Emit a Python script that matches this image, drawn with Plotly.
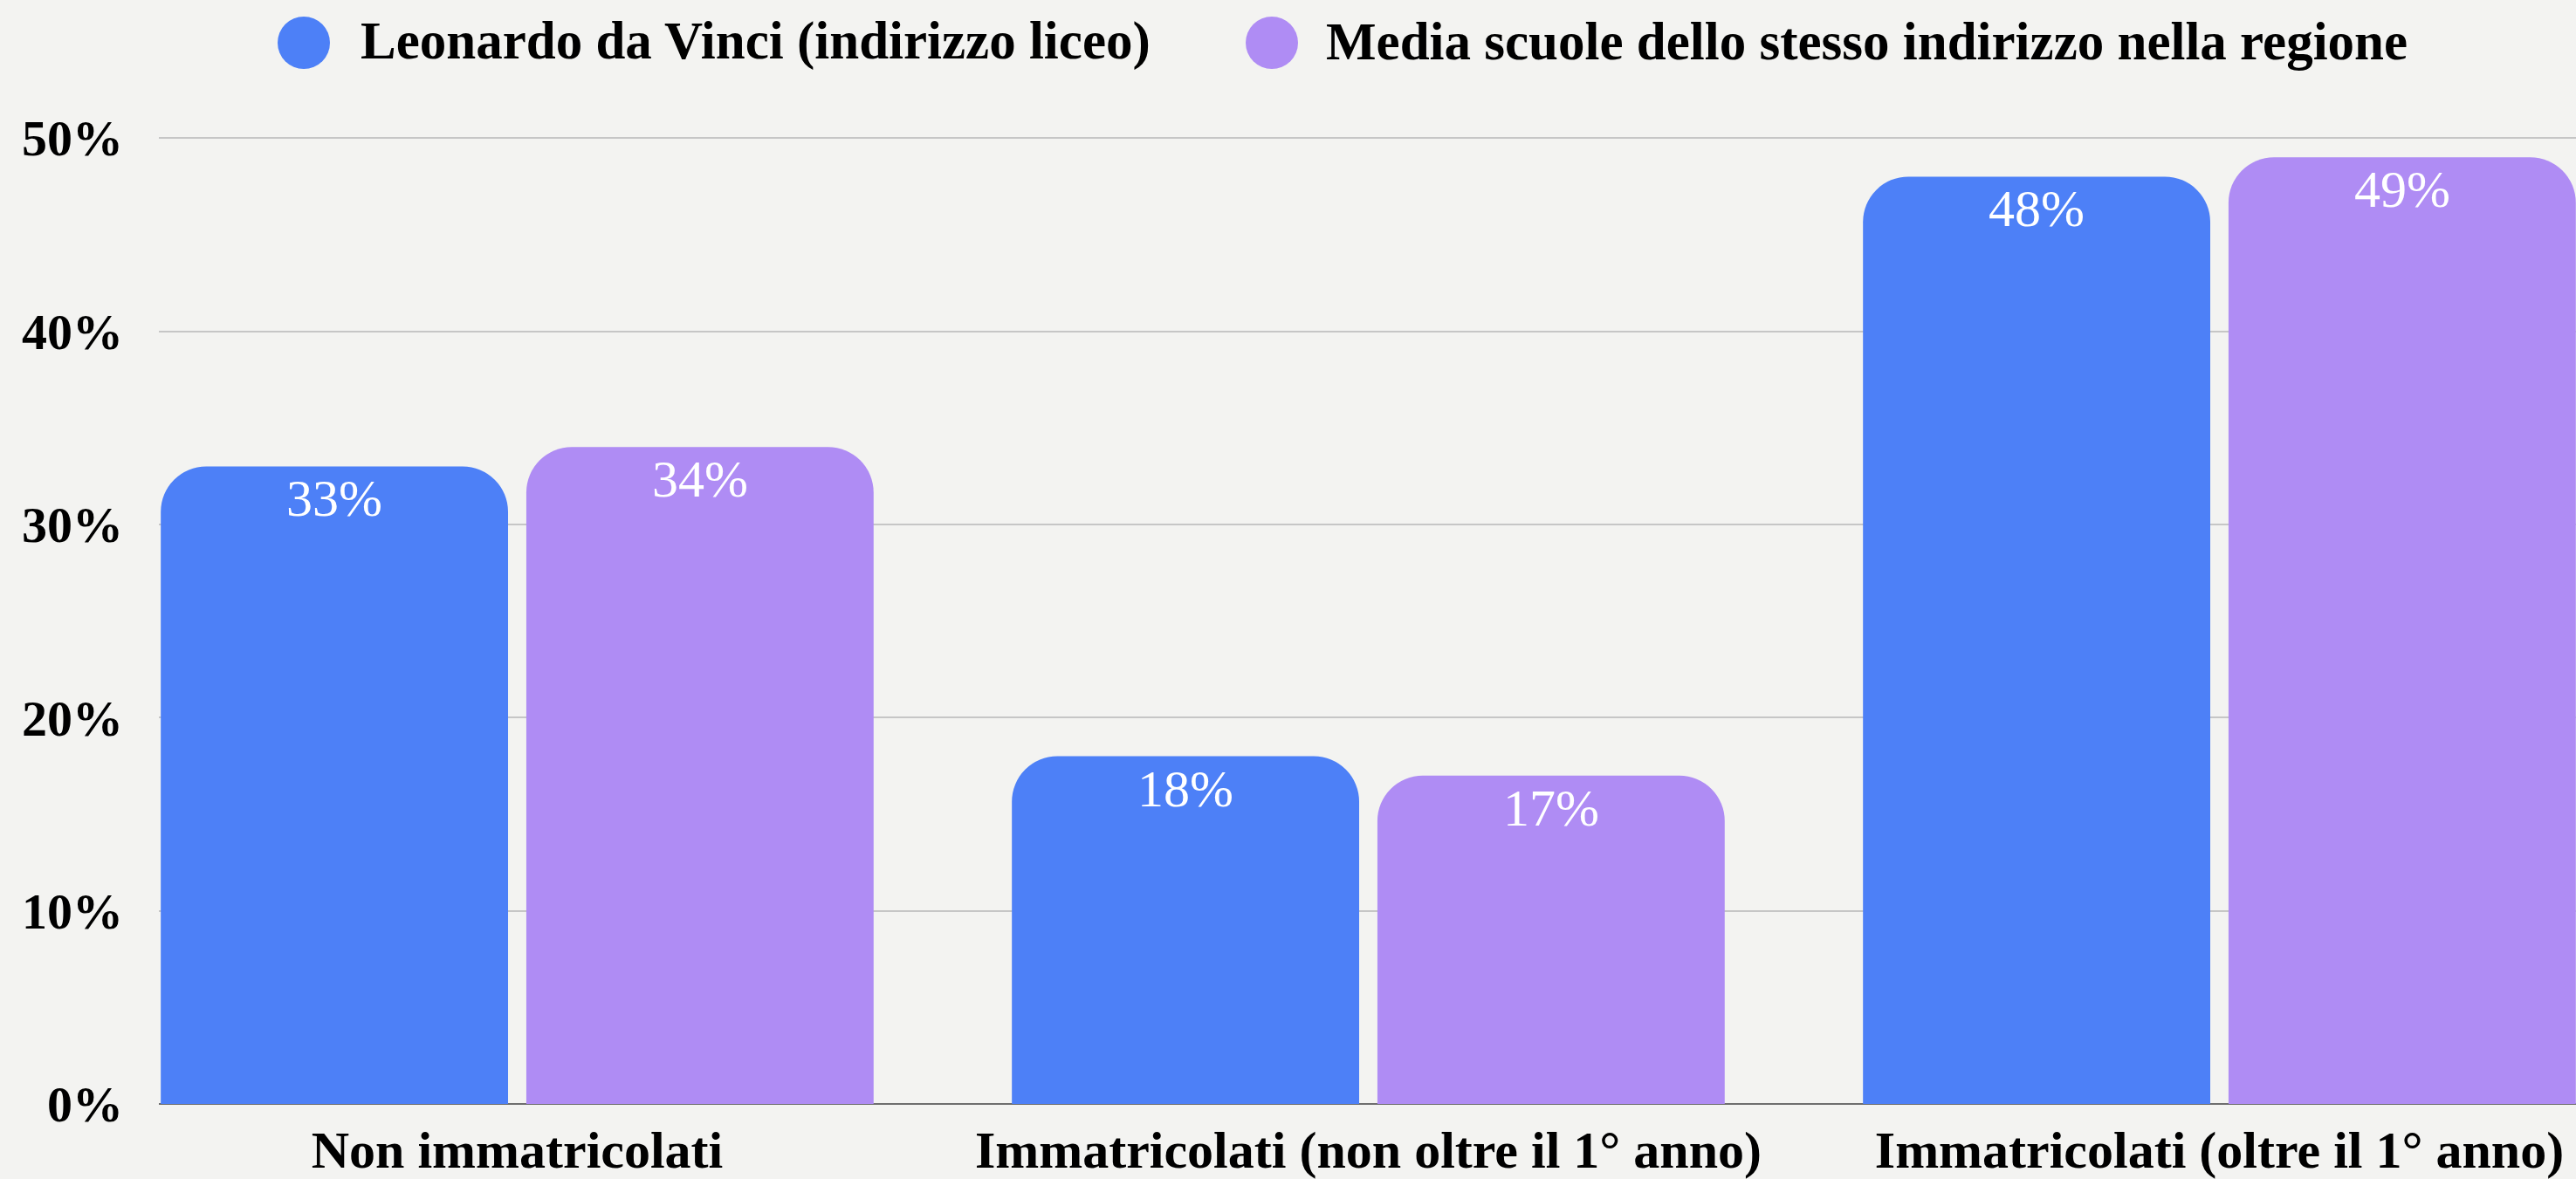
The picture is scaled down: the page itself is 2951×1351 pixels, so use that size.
import plotly.graph_objects as go

categories = ["Non immatricolati", "Immatricolati (non oltre il 1° anno)", "Immatricolati (oltre il 1° anno)"]
series_names = ["Leonardo da Vinci (indirizzo liceo)", "Media scuole dello stesso indirizzo nella regione"]
values_school = [33, 18, 48]
values_region = [34, 17, 49]
colors = ["#4D80F7", "#AF8CF4"]
y_ticks = [0, 10, 20, 30, 40, 50]
y_tick_labels = ["0%", "10%", "20%", "30%", "40%", "50%"]

W, H = 2951, 1351
ML, MR, MT, MB = 182, 0, 136, 86
PW = W - ML - MR
PH = H - MT - MB
FONT = "Liberation Serif"
X_RANGE = [-0.421, 2.419]
BARGAP = 0.141
BARGROUPGAP = 0.05

fig = go.Figure()
all_values = [values_school, values_region]
for name, vals, col in zip(series_names, all_values, colors):
    fig.add_trace(go.Bar(
        x=categories, y=vals, name=name,
        marker=dict(color=col, line=dict(width=0), cornerradius=52),
        showlegend=False, hoverinfo="skip",
    ))

# value labels inside the top of each bar
px_per_unit = PW / (X_RANGE[1] - X_RANGE[0])
slot = (1 - BARGAP) / 2 * px_per_unit
for k, vals in enumerate(all_values):
    shift = (k - 0.5) * slot
    for cat, v in zip(categories, vals):
        fig.add_annotation(x=cat, y=v, xref="x", yref="y", xshift=shift, yshift=-2,
                           xanchor="center", yanchor="top", showarrow=False,
                           text=f"{v}%", font=dict(family=FONT, size=60, color="white"))

# manual legend (large circles)
def px_x(p):
    return (p - ML) / PW

def px_y(p):
    return (H - MB - p) / PH

legend_items = [(348, 411), (1457, 1517)]
for (cx, tx), name, col in zip(legend_items, series_names, colors):
    fig.add_shape(type="circle", xref="paper", yref="paper",
                  xsizemode="pixel", ysizemode="pixel",
                  xanchor=px_x(cx), yanchor=px_y(49),
                  x0=-30, x1=30, y0=-30, y1=30,
                  fillcolor=col, line=dict(width=0))
    fig.add_annotation(xref="paper", yref="paper", x=px_x(tx), y=px_y(47),
                       xanchor="left", yanchor="middle", showarrow=False,
                       text=name, font=dict(family=FONT, size=61, color="black", weight="bold"))

fig.update_layout(
    width=W, height=H,
    margin=dict(l=ML, r=MR, t=MT, b=MB, pad=0, autoexpand=False),
    paper_bgcolor="#F3F3F1", plot_bgcolor="#F3F3F1",
    barmode="group", bargap=BARGAP, bargroupgap=BARGROUPGAP,
    showlegend=False,
    xaxis=dict(range=X_RANGE, showgrid=False, showline=False, ticks="", automargin=False,
               tickfont=dict(family=FONT, size=60, color="black", weight="bold"),
               ticklabelstandoff=12),
    yaxis=dict(range=[0, 51], tickvals=y_ticks, ticktext=y_tick_labels, automargin=False,
               showgrid=True, gridcolor="#C6C6C6", gridwidth=2,
               zeroline=True, zerolinecolor="#6E6E6E", zerolinewidth=2,
               showline=False, ticks="",
               tickfont=dict(family=FONT, size=58, color="black", weight="bold"),
               ticklabelstandoff=40),
)

fig.write_html("out.html",
               config={"displayModeBar": False},
               post_script="document.body.style.margin='0';document.body.style.overflow='hidden';document.body.style.background='#F3F3F1';")
